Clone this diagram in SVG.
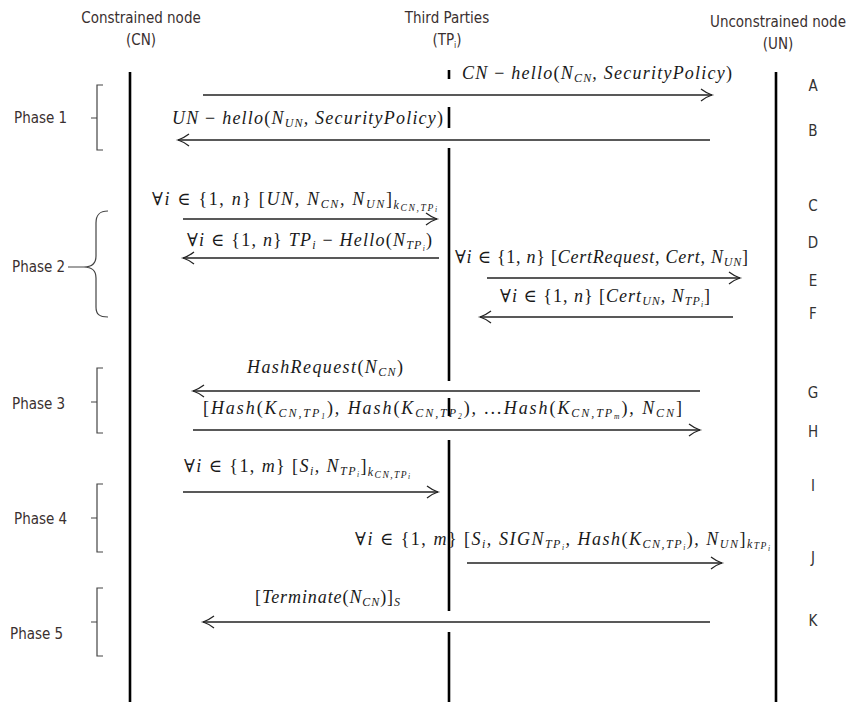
<svg xmlns="http://www.w3.org/2000/svg" width="861" height="702" viewBox="0 0 861 702">
  <defs>
    <style>
      .hd { font-family: "DejaVu Sans Condensed", "DejaVu Sans", sans-serif; font-size: 15px; fill: #3a3030; text-anchor: middle; }
      .ph { font-family: "DejaVu Sans Condensed", "DejaVu Sans", sans-serif; font-size: 15px; fill: #3a3030; }
      .lt { font-family: "DejaVu Sans Condensed", "DejaVu Sans", sans-serif; font-size: 15px; fill: #333; text-anchor: middle; }
      .m { font-family: "Liberation Serif", "DejaVu Serif", serif; font-style: italic; font-size: 18px; fill: #1a1a1a; }
      .r { font-style: normal; }
      .s { font-size: 12px; }
      .ss { font-size: 9.5px; }
      .sss { font-size: 7.5px; }
      .life { stroke: #000; stroke-width: 2.6; fill: none; }
      .msg { stroke: #222; stroke-width: 1.3; fill: none; marker-end: url(#ah); }
      .br { stroke: #444; stroke-width: 1.2; fill: none; }
    </style>
    <marker id="ah" markerUnits="userSpaceOnUse" markerWidth="16" markerHeight="16" refX="13" refY="8" orient="auto">
      <path d="M2,2 Q8,6.5 13,8 Q8,9.5 2,14" fill="none" stroke="#222" stroke-width="1.3"/>
    </marker>
  </defs>

  <rect width="861" height="702" fill="#fff"/>

  <!-- participants -->
  <g id="CN">
    <text class="hd" x="141" y="23">Constrained node</text>
    <text class="hd" x="141" y="45">(CN)</text>
    <line class="life" x1="130" y1="72" x2="130" y2="702"/>
  </g>
  <g id="TP">
    <text class="hd" x="447" y="23">Third Parties</text>
    <text class="hd" x="447" y="45">(TP<tspan font-size="9" dy="3">i</tspan><tspan dy="-3">)</tspan></text>
    <path class="life" d="M449,70 V79 M449,107 V128 M449,148 V381 M449,398 V416 M449,440 V611 M449,632 V702"/>
  </g>
  <g id="UN">
    <text class="hd" x="778" y="27">Unconstrained node</text>
    <text class="hd" x="778" y="49">(UN)</text>
    <line class="life" x1="776" y1="72" x2="776" y2="702"/>
  </g>

  <!-- phase brackets -->
  <g id="phases">
    <text class="ph" x="14" y="123">Phase 1</text>
    <path class="br" d="M103,85 H97 V150 H103 M91,118 H97"/>

    <text class="ph" x="12" y="272">Phase 2</text>
    <path class="br" d="M68,267 H84 M108,211 C99,211 96,215 96,223 V256 C96,263 92,267 84,267 C92,267 96,271 96,278 V307 C96,314 99,317 108,317"/>

    <text class="ph" x="12" y="409">Phase 3</text>
    <path class="br" d="M103,368 H97 V433 H103 M91,402 H97"/>

    <text class="ph" x="14" y="524">Phase 4</text>
    <path class="br" d="M103,484 H97 V552 H103 M91,518 H97"/>

    <text class="ph" x="10" y="639">Phase 5</text>
    <path class="br" d="M103,588 H97 V656 H103 M91,622 H97"/>
  </g>

  <!-- step letters -->
  <g id="steps">
    <text class="lt" x="813" y="91">A</text>
    <text class="lt" x="813" y="136">B</text>
    <text class="lt" x="813" y="211">C</text>
    <text class="lt" x="813" y="248">D</text>
    <text class="lt" x="813" y="286">E</text>
    <text class="lt" x="813" y="319">F</text>
    <text class="lt" x="813" y="398">G</text>
    <text class="lt" x="813" y="437">H</text>
    <text class="lt" x="813" y="491">I</text>
    <text class="lt" x="813" y="563">J</text>
    <text class="lt" x="813" y="626">K</text>
  </g>

  <!-- messages -->
  <g id="connectors">
    <line class="msg" x1="203" y1="95" x2="712" y2="95"/>
    <line class="msg" x1="710" y1="140" x2="178" y2="140"/>
    <line class="msg" x1="183" y1="219" x2="437" y2="219"/>
    <line class="msg" x1="439" y1="258" x2="183" y2="258"/>
    <line class="msg" x1="487" y1="278" x2="740" y2="278"/>
    <line class="msg" x1="733" y1="317" x2="480" y2="317"/>
    <line class="msg" x1="700" y1="391" x2="193" y2="391"/>
    <line class="msg" x1="193" y1="430" x2="700" y2="430"/>
    <line class="msg" x1="183" y1="492" x2="438" y2="492"/>
    <line class="msg" x1="467" y1="563" x2="722" y2="563"/>
    <line class="msg" x1="710" y1="622" x2="203" y2="622"/>
  </g>

  <!-- message labels -->
  <g id="labels">
    <text class="m" x="462" y="79" textLength="270" lengthAdjust="spacing">CN <tspan class="r">−</tspan> hello<tspan class="r">(</tspan>N<tspan class="s" dy="3">CN</tspan><tspan dy="-3">, SecurityPolicy</tspan><tspan class="r">)</tspan></text>

    <text class="m" x="172" y="124" textLength="271" lengthAdjust="spacing">UN <tspan class="r">−</tspan> hello<tspan class="r">(</tspan>N<tspan class="s" dy="3">UN</tspan><tspan dy="-3">, SecurityPolicy</tspan><tspan class="r">)</tspan></text>

    <text class="m" x="152" y="205" textLength="285" lengthAdjust="spacing"><tspan class="r">∀</tspan>i <tspan class="r">∈ {1,</tspan> n<tspan class="r">} [</tspan>UN, N<tspan class="s" dy="3">CN</tspan><tspan dy="-3">, N</tspan><tspan class="s" dy="3">UN</tspan><tspan class="r" dy="-3">]</tspan><tspan class="s" dy="4">k</tspan><tspan class="ss" dy="1.5">CN,TP</tspan><tspan class="sss" dy="1.5">i</tspan><tspan dy="-7"> </tspan></text>

    <text class="m" x="187" y="246" textLength="245" lengthAdjust="spacing"><tspan class="r">∀</tspan>i <tspan class="r">∈ {1,</tspan> n<tspan class="r">}</tspan> TP<tspan class="s" dy="3">i</tspan><tspan class="r" dy="-3"> − </tspan>Hello<tspan class="r">(</tspan>N<tspan class="s" dy="3">TP</tspan><tspan class="sss" dy="1.5">i</tspan><tspan class="r" dy="-4.5">)</tspan></text>

    <text class="m" x="455" y="263" textLength="293" lengthAdjust="spacing"><tspan class="r">∀</tspan>i <tspan class="r">∈ {1,</tspan> n<tspan class="r">} [</tspan>CertRequest, Cert, N<tspan class="s" dy="3">UN</tspan><tspan class="r" dy="-3">]</tspan></text>

    <text class="m" x="500" y="302" textLength="210" lengthAdjust="spacing"><tspan class="r">∀</tspan>i <tspan class="r">∈ {1,</tspan> n<tspan class="r">} [</tspan>Cert<tspan class="s" dy="3">UN</tspan><tspan dy="-3">, N</tspan><tspan class="s" dy="3">TP</tspan><tspan class="sss" dy="1.5">i</tspan><tspan class="r" dy="-4.5">]</tspan></text>

    <text class="m" x="247" y="373" textLength="156" lengthAdjust="spacing">HashRequest<tspan class="r">(</tspan>N<tspan class="s" dy="3">CN</tspan><tspan class="r" dy="-3">)</tspan></text>

    <text class="m" x="203" y="414" textLength="479" lengthAdjust="spacing"><tspan class="r">[</tspan>Hash<tspan class="r">(</tspan>K<tspan class="s" dy="3">CN,TP</tspan><tspan class="sss" dy="1.5">1</tspan><tspan class="r" dy="-4.5">)</tspan>, Hash<tspan class="r">(</tspan>K<tspan class="s" dy="3">CN,TP</tspan><tspan class="sss" dy="1.5">2</tspan><tspan class="r" dy="-4.5">)</tspan>, ...Hash<tspan class="r">(</tspan>K<tspan class="s" dy="3">CN,TP</tspan><tspan class="sss" dy="1.5">m</tspan><tspan class="r" dy="-4.5">)</tspan>, N<tspan class="s" dy="3">CN</tspan><tspan class="r" dy="-3">]</tspan></text>

    <text class="m" x="184" y="472" textLength="226" lengthAdjust="spacing"><tspan class="r">∀</tspan>i <tspan class="r">∈ {1,</tspan> m<tspan class="r">} [</tspan>S<tspan class="s" dy="3">i</tspan><tspan dy="-3">, N</tspan><tspan class="s" dy="3">TP</tspan><tspan class="sss" dy="1.5">i</tspan><tspan class="r" dy="-4.5">]</tspan><tspan class="s" dy="4">k</tspan><tspan class="ss" dy="1.5">CN,TP</tspan><tspan class="sss" dy="1.5">i</tspan><tspan dy="-7"> </tspan></text>

    <text class="m" x="355" y="545" textLength="415" lengthAdjust="spacing"><tspan class="r">∀</tspan>i <tspan class="r">∈ {1,</tspan> m<tspan class="r">} [</tspan>S<tspan class="s" dy="3">i</tspan><tspan dy="-3">, SIGN</tspan><tspan class="s" dy="3">TP</tspan><tspan class="sss" dy="1.5">i</tspan><tspan dy="-4.5">, Hash</tspan><tspan class="r">(</tspan>K<tspan class="s" dy="3">CN,TP</tspan><tspan class="sss" dy="1.5">i</tspan><tspan class="r" dy="-4.5">)</tspan>, N<tspan class="s" dy="3">UN</tspan><tspan class="r" dy="-3">]</tspan><tspan class="s" dy="3">k</tspan><tspan class="ss" dy="1">TP</tspan><tspan class="sss" dy="1.5">i</tspan><tspan dy="-5.5"> </tspan></text>

    <text class="m" x="255" y="603" textLength="145" lengthAdjust="spacing"><tspan class="r">[</tspan>Terminate<tspan class="r">(</tspan>N<tspan class="s" dy="3">CN</tspan><tspan class="r" dy="-3">)]</tspan><tspan class="s" dy="3">S</tspan><tspan dy="-3"> </tspan></text>
  </g>
</svg>
